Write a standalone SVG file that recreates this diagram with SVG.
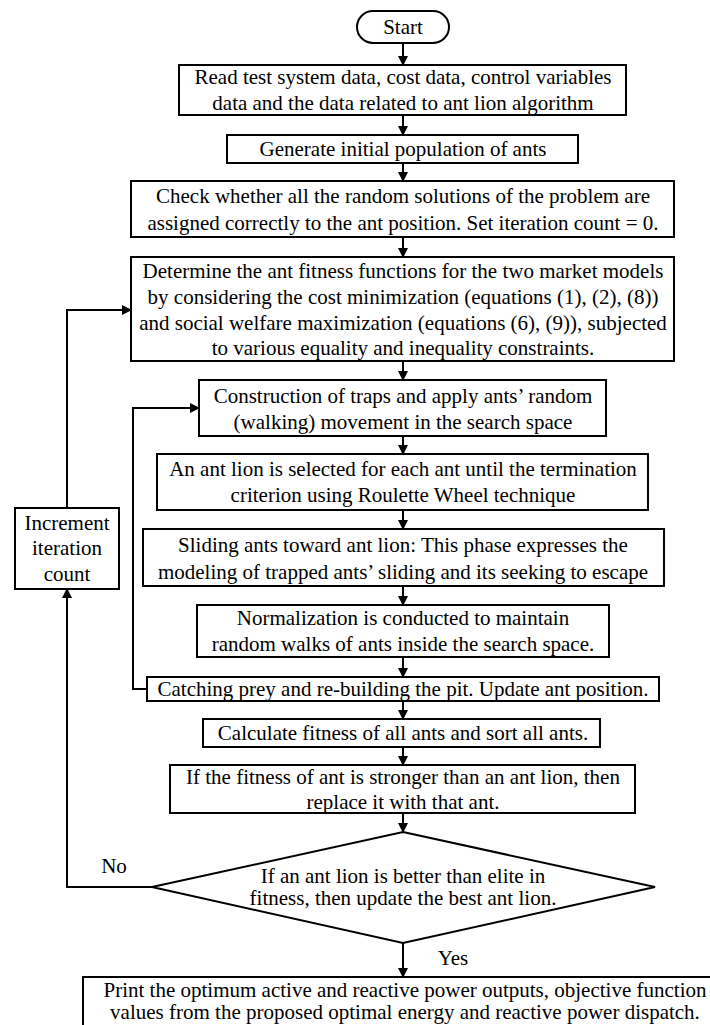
<svg xmlns="http://www.w3.org/2000/svg" width="710" height="1025" viewBox="0 0 710 1025">
<style>
.b{fill:#fff;stroke:#000;stroke-width:2}
.t{font-family:"Liberation Serif","Times New Roman",serif;font-size:21px;fill:#000;text-anchor:middle}
.c{fill:none;stroke:#000;stroke-width:2}
</style>
<defs>
<marker id="ah" markerWidth="10" markerHeight="10" refX="9" refY="5" orient="auto" markerUnits="userSpaceOnUse">
<path d="M0,0 L10,5 L0,10 Z" fill="#000"/>
</marker>
</defs>
<rect width="710" height="1025" fill="#fff"/>
<g id="connectors">
<line class="c" x1="403" y1="43" x2="403" y2="65" marker-end="url(#ah)"/>
<line class="c" x1="403" y1="115" x2="403" y2="135" marker-end="url(#ah)"/>
<line class="c" x1="403" y1="163" x2="403" y2="181" marker-end="url(#ah)"/>
<line class="c" x1="403" y1="237" x2="403" y2="257" marker-end="url(#ah)"/>
<line class="c" x1="403" y1="361" x2="403" y2="380" marker-end="url(#ah)"/>
<line class="c" x1="403" y1="436" x2="403" y2="454" marker-end="url(#ah)"/>
<line class="c" x1="403" y1="510" x2="403" y2="529" marker-end="url(#ah)"/>
<line class="c" x1="403" y1="586" x2="403" y2="605" marker-end="url(#ah)"/>
<line class="c" x1="403" y1="657" x2="403" y2="677" marker-end="url(#ah)"/>
<line class="c" x1="403" y1="701" x2="403" y2="719" marker-end="url(#ah)"/>
<line class="c" x1="403" y1="747" x2="403" y2="765" marker-end="url(#ah)"/>
<line class="c" x1="403" y1="813" x2="403" y2="832" marker-end="url(#ah)"/>
<line class="c" x1="403" y1="943" x2="403" y2="977" marker-end="url(#ah)"/>
<polyline class="c" points="67,508 67,310 131,310" marker-end="url(#ah)"/>
<polyline class="c" points="152,887 67,887 67,589" marker-end="url(#ah)"/>
<polyline class="c" points="147,689 133,689 133,408 199,408" marker-end="url(#ah)"/>
<text class="t" x="114" y="873">No</text>
<text class="t" x="453" y="965">Yes</text>
</g>
<g id="start">
<rect class="b" x="357" y="11" width="92" height="32" rx="16"/>
<text class="t" x="403" y="34">Start</text>
</g>
<g id="read">
<rect class="b" x="179" y="65" width="447" height="50"/>
<text class="t" x="403" y="84">Read test system data, cost data, control variables</text>
<text class="t" x="403" y="110">data and the data related to ant lion algorithm</text>
</g>
<g id="generate">
<rect class="b" x="227" y="135" width="351" height="28"/>
<text class="t" x="403" y="156">Generate initial population of ants</text>
</g>
<g id="check">
<rect class="b" x="131" y="181" width="543" height="56"/>
<text class="t" x="403" y="203">Check whether all the random solutions of the problem are</text>
<text class="t" x="403" y="230">assigned correctly to the ant position. Set iteration count = 0.</text>
</g>
<g id="determine">
<rect class="b" x="131" y="257" width="543" height="104"/>
<text class="t" x="403" y="278">Determine the ant fitness functions for the two market models</text>
<text class="t" x="403" y="304">by considering the cost minimization (equations (1), (2), (8))</text>
<text class="t" x="403" y="330">and social welfare maximization (equations (6), (9)), subjected</text>
<text class="t" x="403" y="355">to various equality and inequality constraints.</text>
</g>
<g id="construction">
<rect class="b" x="199" y="380" width="407" height="56"/>
<text class="t" x="403" y="403">Construction of traps and apply ants’ random</text>
<text class="t" x="403" y="429">(walking) movement in the search space</text>
</g>
<g id="antlion">
<rect class="b" x="157" y="454" width="491" height="56"/>
<text class="t" x="403" y="476">An ant lion is selected for each ant until the termination</text>
<text class="t" x="403" y="502">criterion using Roulette Wheel technique</text>
</g>
<g id="sliding">
<rect class="b" x="143" y="529" width="521" height="57"/>
<text class="t" x="403" y="552">Sliding ants toward ant lion: This phase expresses the</text>
<text class="t" x="403" y="579">modeling of trapped ants’ sliding and its seeking to escape</text>
</g>
<g id="normalization">
<rect class="b" x="197" y="605" width="412" height="52"/>
<text class="t" x="403" y="625">Normalization is conducted to maintain</text>
<text class="t" x="403" y="651">random walks of ants inside the search space.</text>
</g>
<g id="catching">
<rect class="b" x="147" y="677" width="512" height="24"/>
<text class="t" x="403" y="696">Catching prey and re-building the pit. Update ant position.</text>
</g>
<g id="calculate">
<rect class="b" x="203" y="719" width="397" height="28"/>
<text class="t" x="403" y="740">Calculate fitness of all ants and sort all ants.</text>
</g>
<g id="replace">
<rect class="b" x="170" y="765" width="465" height="48"/>
<text class="t" x="403" y="784">If the fitness of ant is stronger than an ant lion, then</text>
<text class="t" x="403" y="809">replace it with that ant.</text>
</g>
<g id="decision">
<polygon class="b" points="403,832 655,887 403,943 152,887"/>
<text class="t" x="403" y="883">If an ant lion is better than elite in</text>
<text class="t" x="403" y="905">fitness, then update the best ant lion.</text>
</g>
<g id="increment">
<rect class="b" x="15" y="508" width="104" height="81"/>
<text class="t" x="67" y="530">Increment</text>
<text class="t" x="67" y="555">iteration</text>
<text class="t" x="67" y="581">count</text>
</g>
<g id="print">
<rect class="b" x="83" y="977" width="635" height="60"/>
<text class="t" x="405" y="997">Print the optimum active and reactive power outputs, objective function</text>
<text class="t" x="405" y="1019">values from the proposed optimal energy and reactive power dispatch.</text>
</g>
</svg>
